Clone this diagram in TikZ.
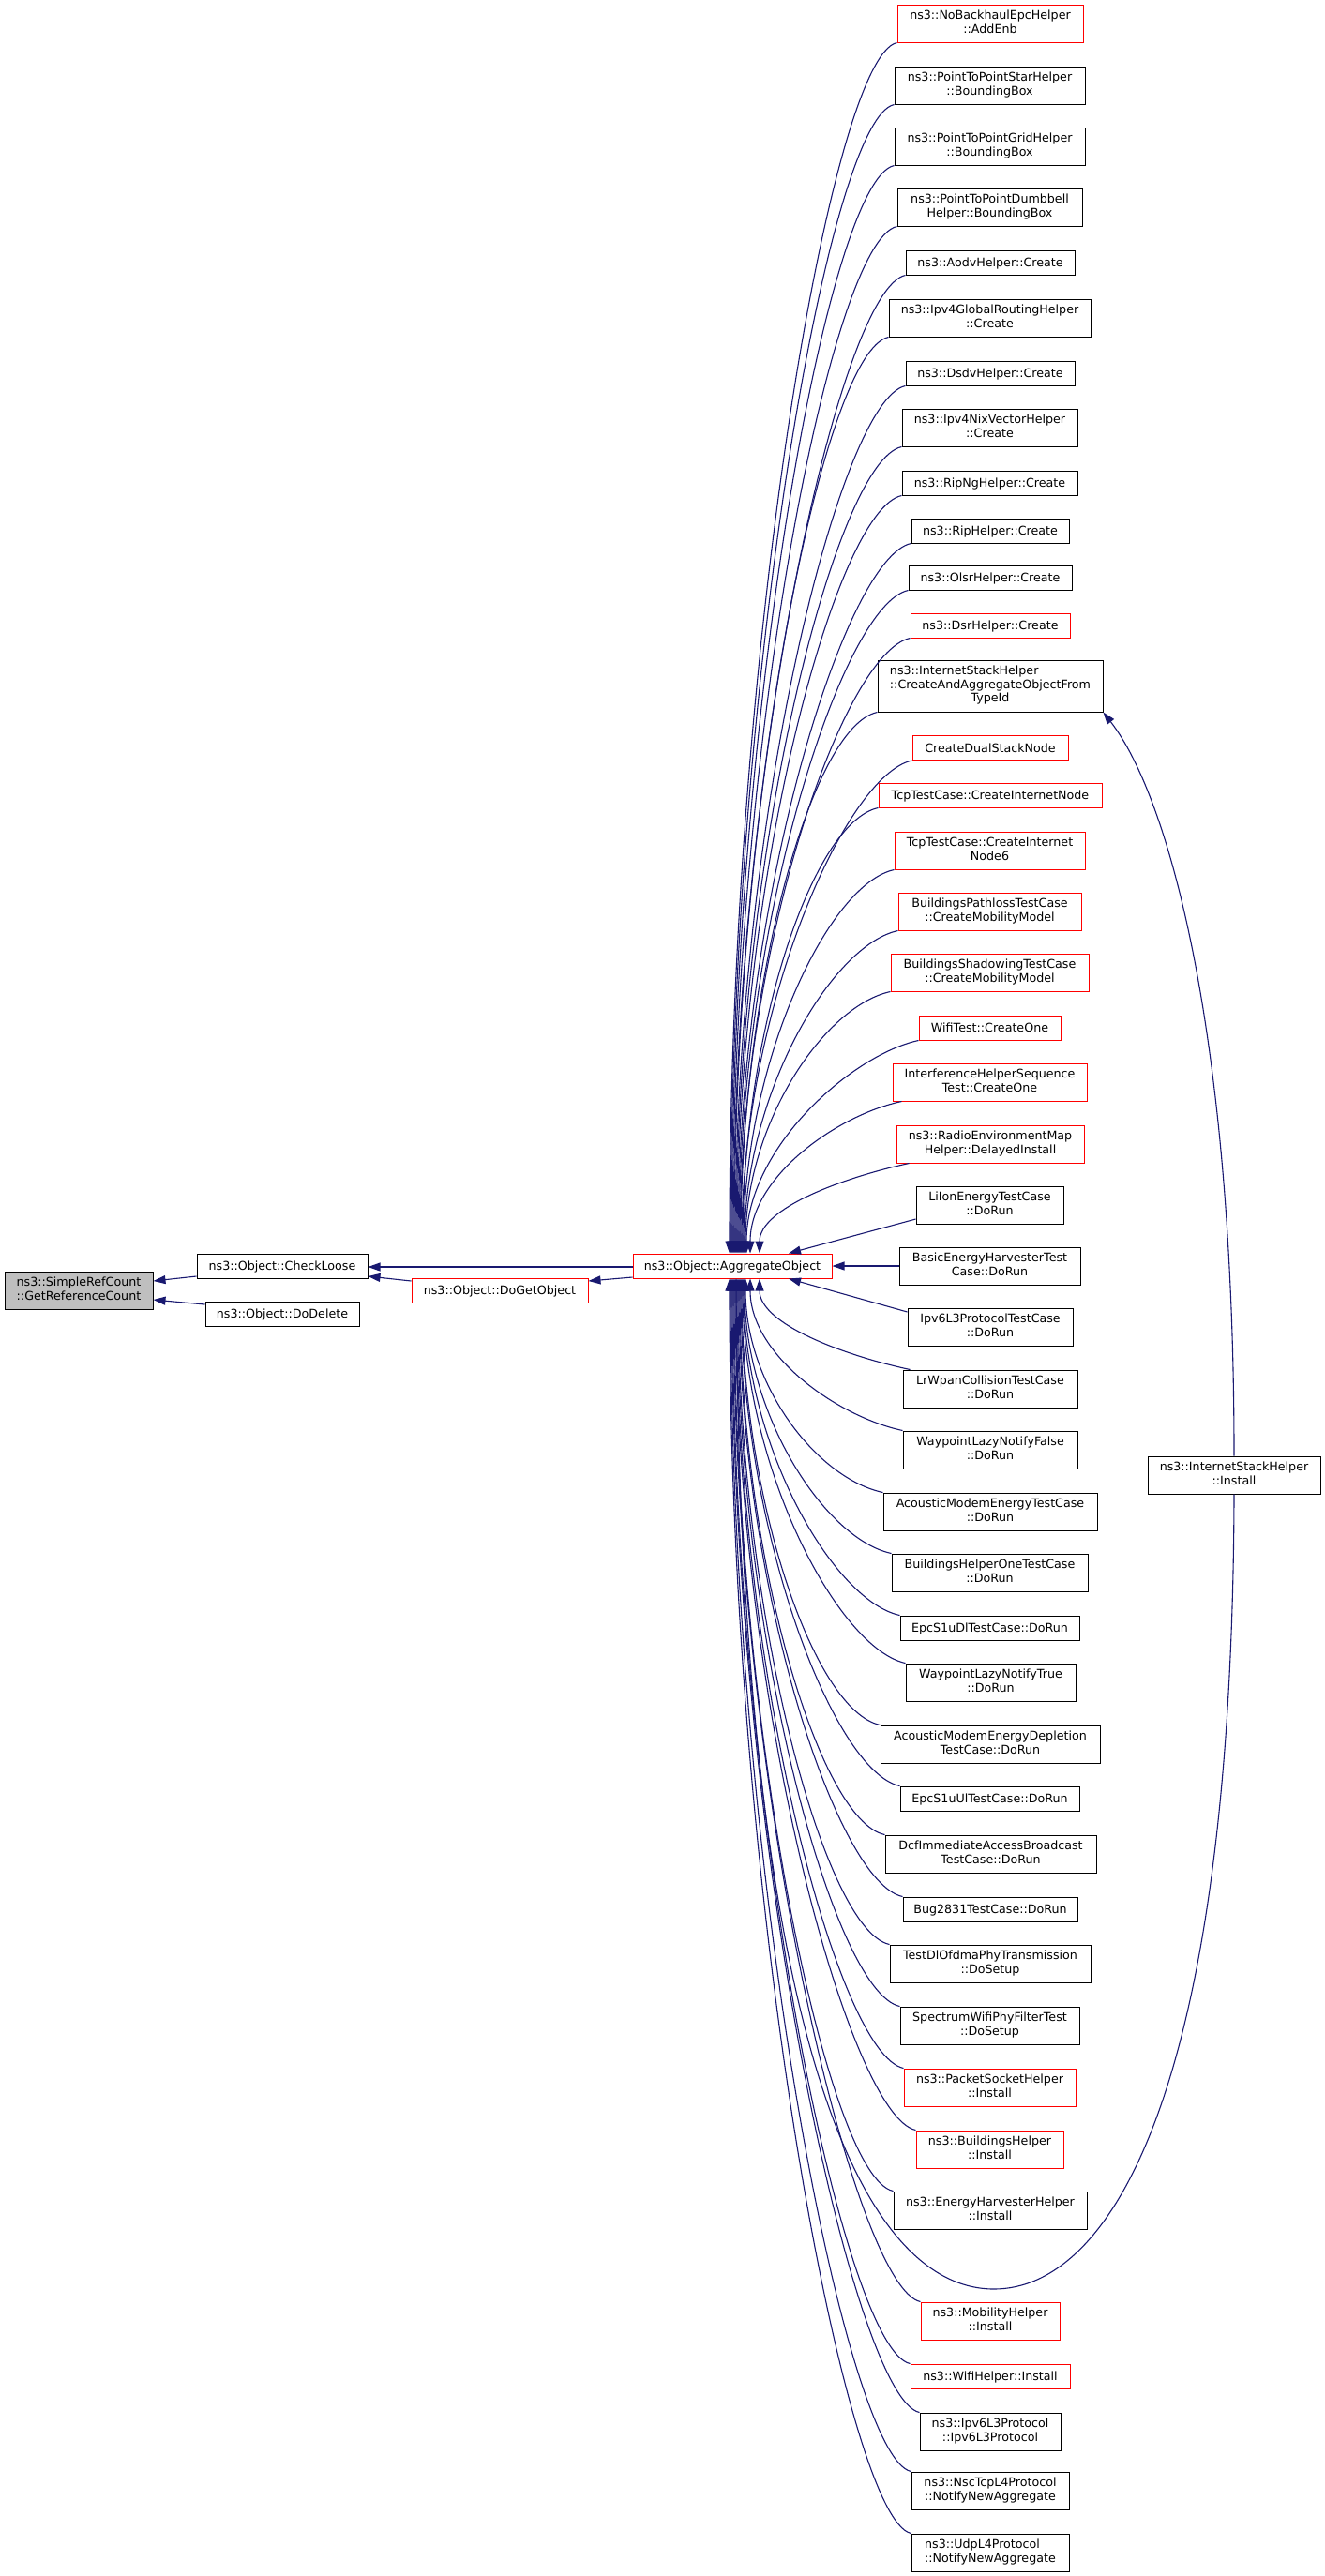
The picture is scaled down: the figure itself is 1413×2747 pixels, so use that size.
\documentclass[tikz,border=0pt]{standalone}
\usepackage{fontspec}
\setmainfont{DejaVu Sans}
\usetikzlibrary{arrows.meta,calc}
\definecolor{edgeblue}{HTML}{191970}
\definecolor{srcgray}{HTML}{BFBFBF}
\newcommand{\twoln}[2]{\begin{tabular}{@{}l@{}}#1\\\multicolumn{1}{@{}c@{}}{#2}\end{tabular}}
\newcommand{\threeln}[3]{\begin{tabular}{@{}l@{}}#1\\#2\\\multicolumn{1}{@{}c@{}}{#3}\end{tabular}}
\tikzset{
  nd/.style={draw=black, fill=white, line width=1pt, inner sep=0pt,
    font=\fontsize{12.67pt}{14.5pt}\selectfont},
  b/.style 2 args={nd, minimum width=#1pt, minimum height=#2pt},
  one/.style={text height=9.2pt, text depth=0pt},
  trunc/.style={draw=red},
  conn/.style={draw=edgeblue, line width=1.1pt, -{Triangle[length=13pt,width=9pt]}}
}
\begin{document}
\begin{tikzpicture}[x=1pt,y=-1pt]
\useasboundingbox (0,0) rectangle (1413,2747);
% left part
\node[b={158}{40}, fill=srcgray] (src) at (84,1376) {\twoln{ns3::SimpleRefCount}{::GetReferenceCount}};
\node[b={182}{26},one] (chk) at (301,1350) {ns3::Object::CheckLoose};
\node[b={164}{26},one] (del) at (301,1401) {ns3::Object::DoDelete};
\node[b={188}{26},one,trunc] (dgo) at (533,1376) {ns3::Object::DoGetObject};
\node[b={212}{26},one,trunc] (agg) at (781,1350) {ns3::Object::AggregateObject};
\node[b={184}{40}] (inst) at (1316,1573) {\twoln{ns3::InternetStackHelper}{::Install}};
% right column
\node[b={198}{40},trunc] (n1) at (1056,25) {\twoln{ns3::NoBackhaulEpcHelper}{::AddEnb}};
\node[b={203}{40}] (n2) at (1055.5,91) {\twoln{ns3::PointToPointStarHelper}{::BoundingBox}};
\node[b={203}{40}] (n3) at (1055.5,156) {\twoln{ns3::PointToPointGridHelper}{::BoundingBox}};
\node[b={197}{40}] (n4) at (1055.5,221) {\twoln{ns3::PointToPointDumbbell}{Helper::BoundingBox}};
\node[b={180}{26},one] (n5) at (1056,280) {ns3::AodvHelper::Create};
\node[b={215}{40}] (n6) at (1055.5,339) {\twoln{ns3::Ipv4GlobalRoutingHelper}{::Create}};
\node[b={180}{26},one] (n7) at (1056,398) {ns3::DsdvHelper::Create};
\node[b={187}{40}] (n8) at (1055.5,456) {\twoln{ns3::Ipv4NixVectorHelper}{::Create}};
\node[b={187}{26},one] (n9) at (1055.5,515) {ns3::RipNgHelper::Create};
\node[b={168}{26},one] (n10) at (1056,566) {ns3::RipHelper::Create};
\node[b={174}{26},one] (n11) at (1056,616) {ns3::OlsrHelper::Create};
\node[b={170}{26},one,trunc] (n12) at (1056,667) {ns3::DsrHelper::Create};
\node[b={240}{55}] (n13) at (1056,731.5) {\threeln{ns3::InternetStackHelper}{::CreateAndAggregateObjectFrom}{TypeId}};
\node[b={166}{26},one,trunc] (n14) at (1056,797.5) {CreateDualStackNode};
\node[b={238}{26},one,trunc] (n15) at (1056,848) {TcpTestCase::CreateInternetNode};
\node[b={203}{40},trunc] (n16) at (1055.5,907) {\twoln{TcpTestCase::CreateInternet}{Node6}};
\node[b={195}{40},trunc] (n17) at (1055.5,972) {\twoln{BuildingsPathlossTestCase}{::CreateMobilityModel}};
\node[b={211}{40},trunc] (n18) at (1055.5,1037) {\twoln{BuildingsShadowingTestCase}{::CreateMobilityModel}};
\node[b={151}{26},one,trunc] (n19) at (1055.5,1096) {WifiTest::CreateOne};
\node[b={207}{40},trunc] (n20) at (1055.5,1154) {\twoln{InterferenceHelperSequence}{Test::CreateOne}};
\node[b={200}{40},trunc] (n21) at (1056,1220) {\twoln{ns3::RadioEnvironmentMap}{Helper::DelayedInstall}};
\node[b={157}{40}] (n22) at (1055.5,1285) {\twoln{LiIonEnergyTestCase}{::DoRun}};
\node[b={193}{40}] (n23) at (1055.5,1350) {\twoln{BasicEnergyHarvesterTest}{Case::DoRun}};
\node[b={176}{40}] (n24) at (1056,1415) {\twoln{Ipv6L3ProtocolTestCase}{::DoRun}};
\node[b={186}{40}] (n25) at (1056,1481) {\twoln{LrWpanCollisionTestCase}{::DoRun}};
\node[b={186}{40}] (n26) at (1056,1546) {\twoln{WaypointLazyNotifyFalse}{::DoRun}};
\node[b={228}{40}] (n27) at (1056,1612) {\twoln{AcousticModemEnergyTestCase}{::DoRun}};
\node[b={209}{40}] (n28) at (1055.5,1677) {\twoln{BuildingsHelperOneTestCase}{::DoRun}};
\node[b={191}{26},one] (n29) at (1055.5,1736) {EpcS1uDlTestCase::DoRun};
\node[b={181}{40}] (n30) at (1056.5,1794) {\twoln{WaypointLazyNotifyTrue}{::DoRun}};
\node[b={234}{40}] (n31) at (1056,1860) {\twoln{AcousticModemEnergyDepletion}{TestCase::DoRun}};
\node[b={191}{26},one] (n32) at (1055.5,1918) {EpcS1uUlTestCase::DoRun};
\node[b={225}{40}] (n33) at (1056.5,1977) {\twoln{DcfImmediateAccessBroadcast}{TestCase::DoRun}};
\node[b={186}{26},one] (n34) at (1056,2036) {Bug2831TestCase::DoRun};
\node[b={214}{40}] (n35) at (1056,2094) {\twoln{TestDlOfdmaPhyTransmission}{::DoSetup}};
\node[b={191}{40}] (n36) at (1055.5,2160) {\twoln{SpectrumWifiPhyFilterTest}{::DoSetup}};
\node[b={183}{40},trunc] (n37) at (1055.5,2226) {\twoln{ns3::PacketSocketHelper}{::Install}};
\node[b={157}{40},trunc] (n38) at (1055.5,2292) {\twoln{ns3::BuildingsHelper}{::Install}};
\node[b={206}{40}] (n39) at (1056,2357) {\twoln{ns3::EnergyHarvesterHelper}{::Install}};
\node[b={148}{40},trunc] (n40) at (1056,2475) {\twoln{ns3::MobilityHelper}{::Install}};
\node[b={170}{26},one,trunc] (n41) at (1056,2534) {ns3::WifiHelper::Install};
\node[b={150}{40}] (n42) at (1056,2593) {\twoln{ns3::Ipv6L3Protocol}{::Ipv6L3Protocol}};
\node[b={168}{40}] (n43) at (1056,2656) {\twoln{ns3::NscTcpL4Protocol}{::NotifyNewAggregate}};
\node[b={168}{40}] (n44) at (1056,2722) {\twoln{ns3::UdpL4Protocol}{::NotifyNewAggregate}};
% left connectors
\draw[conn] ($(chk.west)+(0,11)$) -- ($(src.east)+(0,-10)$);
\draw[conn] ($(del.west)+(0,-10)$) -- ($(src.east)+(0,10)$);
\draw[conn] ($(agg.west)+(0,1)$) -- ($(chk.east)+(0,1)$);
\draw[conn] ($(dgo.west)+(0,-10)$) -- ($(chk.east)+(0,11)$);
\draw[conn] ($(agg.west)+(0,12)$) -- ($(dgo.east)+(0,-10)$);
% upper column connectors
\foreach \nd/\e/\sx in {n1/-3/0,n2/-2/0,n3/-1/0,n4/0/0,n5/1/0,n6/2/0,n7/3/0,n8/4/0,n9/5/0,n10/6/0,n11/7/0,n12/8/0,n13/9/0,n14/10/0,n15/11/0,n16/12/0,n17/13/0,n18/14/0,n19/15/0,n20/19/10,n21/29/14}{
  \coordinate (s) at ($(\nd.south west)+(\sx,0)$);
  \coordinate (t) at ($(agg.north)+(\e,0)$);
  \draw[conn] (s) .. controls ($(s)+(-70,15)$)
    and ($(t)!0.5!(t |- s)$) .. (t);
}
% lower column connectors
\foreach \nd/\e/\sx in {n25/29/8,n26/19/0,n27/14/0,n28/13/0,n29/12/0,n30/11/0,n31/10/0,n32/9/0,n33/8/0,n34/7/0,n35/6/0,n36/5/0,n37/4/0,n38/3/0,n39/2/0,n40/1/0,n41/0/0,n42/-1/0,n43/-2/0,n44/-3/0}{
  \coordinate (s) at ($(\nd.north west)+(\sx,0)$);
  \coordinate (t) at ($(agg.south)+(\e,0)$);
  \draw[conn] (s) .. controls ($(s)+(-70,-15)$)
    and ($(t)!0.5!(t |- s)$) .. (t);
}
% near connectors
\draw[conn] ($(n22.west)+(0,15)$) -- ($(agg.north)+(60,0)$);
\draw[conn] (n23.west) -- (agg.east);
\draw[conn] ($(n24.west)+(0,-16)$) -- ($(agg.south)+(60,0)$);
% InternetStackHelper::Install connectors
\draw[conn] (inst.north) .. controls +(0,-450) and +(70,90) .. (n13.south east);
\coordinate (v) at (1060,2441);
\draw[conn] (inst.south) .. controls +(-2,650) and +(120,0) .. (v)
  .. controls +(-130,0) and +(5,850) .. ($(agg.south)+(4,0)$);
\end{tikzpicture}
\end{document}
